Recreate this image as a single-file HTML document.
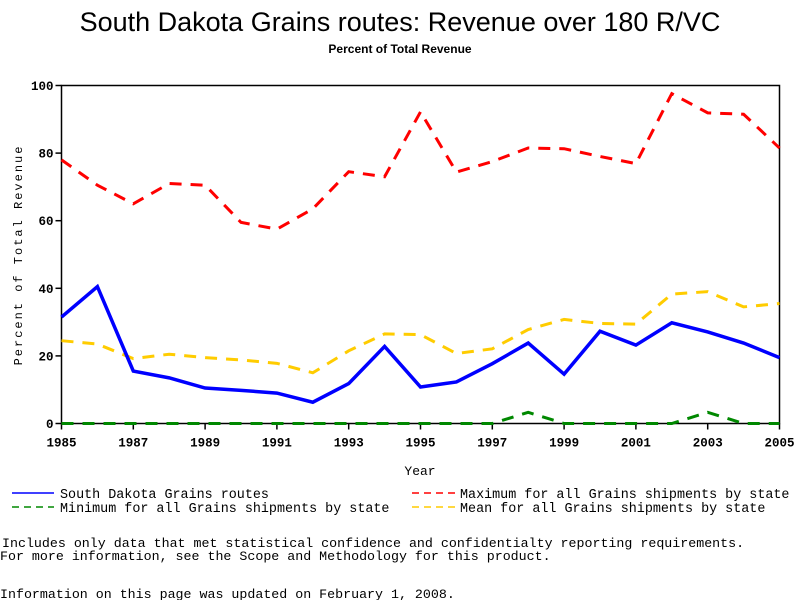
<!DOCTYPE html>
<html><head><meta charset="utf-8"><style>
body{margin:0;background:#fff}
svg{display:block}
text{font-family:"Liberation Sans",sans-serif}
.mono{font-family:"Liberation Mono",monospace}
</style></head><body>
<svg id="chart" width="800" height="600" xmlns="http://www.w3.org/2000/svg">
<text x="400" y="31" text-anchor="middle" font-size="27">South Dakota Grains routes: Revenue over 180 R/VC</text>
<text x="400" y="53" text-anchor="middle" font-size="12" font-weight="bold">Percent of Total Revenue</text>
<rect x="61.5" y="85.5" width="718" height="338" fill="none" stroke="#000" stroke-width="1.5"/>
<g id="yticks"></g>
<g id="xticks"></g>
<text transform="translate(22,255) rotate(-90)" text-anchor="middle" font-size="12" class="mono" letter-spacing="2">Percent of Total Revenue</text>
<text x="420" y="475" text-anchor="middle" font-size="13" class="mono">Year</text>
<g id="series"></g>
<g>
<line x1="12" y1="493" x2="54" y2="493" stroke="#00f" stroke-width="1.5"/>
<text x="60" y="498" font-size="13.4" class="mono">South Dakota Grains routes</text>
<line x1="12" y1="507" x2="54" y2="507" stroke="#080" stroke-width="1.5" stroke-dasharray="7,5"/>
<text x="60" y="512" font-size="13.4" class="mono">Minimum for all Grains shipments by state</text>
<line x1="412" y1="493" x2="455" y2="493" stroke="#f00" stroke-width="1.5" stroke-dasharray="7,5"/>
<text x="460" y="498" font-size="13.4" class="mono">Maximum for all Grains shipments by state</text>
<line x1="412" y1="507" x2="455" y2="507" stroke="#fc0" stroke-width="1.5" stroke-dasharray="7,5"/>
<text x="460" y="512" font-size="13.4" class="mono">Mean for all Grains shipments by state</text>
</g>
<text x="2" y="547" font-size="13.3" class="mono">Includes only data that met statistical confidence and confidentialty reporting requirements.</text>
<text x="0" y="560" font-size="13.3" class="mono">For more information, see the Scope and Methodology for this product.</text>
<text x="0" y="598" font-size="13.3" class="mono">Information on this page was updated on February 1, 2008.</text>
</svg>
<script>
const years=[1985,1986,1987,1988,1989,1990,1991,1992,1993,1994,1995,1996,1997,1998,1999,2000,2001,2002,2003,2004,2005];
const sdValues=[31.5,40.5,15.5,13.5,10.5,9.8,9,6.3,11.8,22.8,10.8,12.3,17.7,23.8,14.6,27.3,23.2,29.8,27.1,23.8,19.5];
const maxValues=[78,70.5,65,71,70.5,59.5,57.5,63.5,74.5,73,92.2,74.4,77.5,81.5,81.3,79,76.9,97.6,91.9,91.5,81.5];
const meanValues=[24.5,23.5,19.2,20.5,19.5,18.8,17.8,15,21.5,26.5,26.3,20.7,22.1,27.8,30.8,29.6,29.4,38.3,39,34.5,35.5];
const minValues=[0,0,0,0,0,0,0,0,0,0,0,0,0,3.3,0,0,0,0,3.3,0,0];
const yTicks=[0,20,40,60,80,100];
const xTickLabels=[1985,1987,1989,1991,1993,1995,1997,1999,2001,2003,2005];
const NS="http://www.w3.org/2000/svg";
const x0=61.5,x1=779.5,y0=423.5,y1=85.5;
function xs(v){return x0+(v-1985)/(2005-1985)*(x1-x0);}
function ys(v){return y0-(v/100)*(y0-y1);}
const yg=document.getElementById('yticks');
yTicks.forEach(t=>{
 const l=document.createElementNS(NS,'line');
 l.setAttribute('x1',x0-6);l.setAttribute('x2',x0);l.setAttribute('y1',ys(t));l.setAttribute('y2',ys(t));l.setAttribute('stroke','#000');l.setAttribute('stroke-width','1.5');
 
 
 yg.appendChild(l);
 const tx=document.createElementNS(NS,'text');
 tx.setAttribute('x',x0-8);tx.setAttribute('y',ys(t)+4.5);tx.setAttribute('text-anchor','end');tx.setAttribute('font-size','12.5');tx.setAttribute('font-weight','bold');tx.setAttribute('class','mono');
 tx.textContent=t;
 
 
 yg.appendChild(tx);
});
const xg=document.getElementById('xticks');
xTickLabels.forEach(t=>{
 const l=document.createElementNS(NS,'line');
 l.setAttribute('x1',xs(t));l.setAttribute('x2',xs(t));l.setAttribute('y1',y0);l.setAttribute('y2',y0+6);l.setAttribute('stroke','#000');l.setAttribute('stroke-width','1.5');
 
 
 xg.appendChild(l);
 const tx=document.createElementNS(NS,'text');
 tx.setAttribute('x',xs(t));tx.setAttribute('y',y0+23);tx.setAttribute('text-anchor','middle');tx.setAttribute('font-size','12.5');tx.setAttribute('font-weight','bold');tx.setAttribute('class','mono');
 tx.textContent=t;
 
 
 xg.appendChild(tx);
});
const sg=document.getElementById('series');
function addLine(vals,color,dash,w,name){
 const p=document.createElementNS(NS,'polyline');
 p.setAttribute('points',vals.map((v,i)=>xs(years[i])+','+ys(v)).join(' '));
 p.setAttribute('fill','none');p.setAttribute('stroke',color);p.setAttribute('stroke-width',w);
 if(dash)p.setAttribute('stroke-dasharray',dash);
 
 
 sg.appendChild(p);
}
addLine(minValues,'#080','12,9',3,'minimum-line');
addLine(meanValues,'#fc0','12,9',3,'mean-line');
addLine(maxValues,'#f00','12,9',3,'maximum-line');
addLine(sdValues,'#00f',null,3.5,'south-dakota-line');
</script>
</body></html>
